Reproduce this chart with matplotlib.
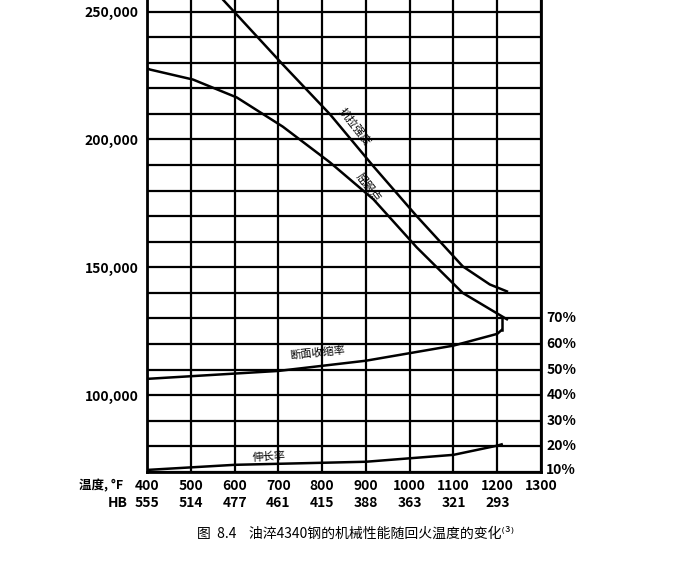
import matplotlib.pyplot as plt
import numpy as np

plt.rcParams['font.family'] = ['Noto Sans CJK SC', 'DejaVu Sans']

# 数据
temp_f = [400, 500, 600, 700, 800, 900, 1000, 1100, 1200, 1300]
hb = ['555', '514', '477', '461', '415', '388', '363', '321', '293', '']

t_tensile = [500, 573, 710, 818, 917, 1016, 1121, 1183, 1222]
tensile = [275000, 254700, 229300, 209800, 189500, 170000, 150400, 143300, 140600]

t_yield = [400, 407, 505, 605, 710, 818, 917, 1016, 1121, 1222]
yield_pt = [227800, 227300, 223400, 216400, 205000, 191000, 176600, 157800, 140000, 129700]

t_ra = [400, 700, 900, 1100, 1200, 1210]
ra = [46.4, 49.5, 53.5, 59.4, 64.0, 65.5]

t_el = [400, 600, 900, 1100, 1200, 1210]
el = [10.8, 12.8, 14.0, 16.7, 20.3, 20.8]

fig = plt.figure(figsize=(6.84, 5.69), dpi=100)
ax = fig.add_axes([0.215, 0.1705, 0.576, 0.8295])
ax.set_xlim(400, 1300)
ax.set_ylim(70000, 254500)

ax.set_xticks(temp_f)
ax.set_yticks([100000, 150000, 200000, 250000])
ax.set_yticks(np.arange(70000, 255000, 10000), minor=True)
ax.grid(True, which='both', color='black', lw=1.6)
ax.set_yticklabels(['100,000', '150,000', '200,000', '250,000'], fontsize=10, fontweight='bold')
ax.tick_params(which='both', length=0, pad=6)
ax.set_xticklabels([])
ax.spines['top'].set_visible(False)
for s in ['left', 'bottom', 'right']:
    ax.spines[s].set_linewidth(2)

ax.plot(t_tensile, tensile, color='black', lw=1.8)
ax.plot(t_yield, yield_pt, color='black', lw=1.8)
# 百分比曲线: psi = pct*1000 + 60000
ax.plot(t_ra, np.array(ra) * 1000 + 60000, color='black', lw=1.8)
ax.plot(t_el, np.array(el) * 1000 + 60000, color='black', lw=1.8)
ax.plot([1210, 1210], [129700, 125500], color='black', lw=1.8)

ax.text(875, 205000, '抗拉强度', rotation=-52, fontsize=8, ha='center', va='center')
ax.text(905, 181000, '屈服点', rotation=-52, fontsize=8, ha='center', va='center')
ax.text(790, 116500, '断面收缩率', rotation=6, fontsize=8, ha='center', va='center')
ax.text(680, 76000, '伸长率', rotation=4, fontsize=8, ha='center', va='center')

# 右侧百分比刻度
for p in range(10, 80, 10):
    y = p * 1000 + 60000 + (800 if p == 10 else 0)
    ax.text(1312, y, f'{p}%', fontsize=10, fontweight='bold', va='center', ha='left')

# 底部两行刻度
for t, h in zip(temp_f, hb):
    ax.text(t, 64500, str(t), fontsize=10, fontweight='bold', ha='center', va='center')
    ax.text(t, 57800, h, fontsize=10, fontweight='bold', ha='center', va='center')
ax.text(296, 64500, '温度, °F', fontsize=9, fontweight='bold', ha='center', va='center')
ax.text(333, 57800, 'HB', fontsize=10, fontweight='bold', ha='center', va='center')

fig.text(0.52, 0.062, '图  8.4    油淬4340钢的机械性能随回火温度的变化⁽³⁾', fontsize=10, ha='center', va='center')

fig.savefig('out.png', dpi=100)
